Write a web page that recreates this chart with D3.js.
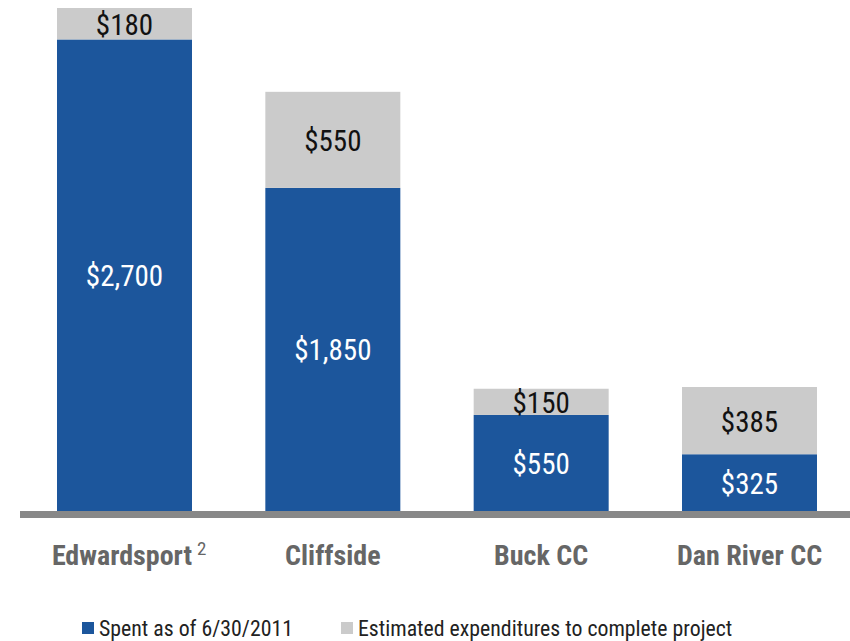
<!DOCTYPE html>
<html>
<head>
<meta charset="utf-8">
<script src="https://cdn.jsdelivr.net/npm/d3@7"></script>
<style>
  body { margin: 0; background: #fff; }
  svg { display: block; }
  text { font-family: "Liberation Sans Narrow", "Arial Narrow", "Roboto Condensed", "DejaVu Sans Condensed", sans-serif; }
</style>
</head>
<body>
<svg id="chart" width="850" height="641"></svg>
<script>
const categories = ["Edwardsport", "Cliffside", "Buck CC", "Dan River CC"];
const footnotes = ["2", "", "", ""];
const spent = [2700, 1850, 550, 325];
const estimated = [180, 550, 150, 385];
const seriesNames = ["Spent as of 6/30/2011", "Estimated expenditures to complete project"];
const colors = ["#1C569C", "#CBCBCB"];

const svg = d3.select("#chart");
const baseY = 511;

const x = d3.scaleBand().domain(categories).range([57, 817]).paddingInner(0.352).paddingOuter(0);
const y = d3.scaleLinear().domain([0, 2880]).range([baseY, 8]);

const rows = categories.map((c, i) => ({ cat: c, spent: spent[i], estimated: estimated[i] }));
const stack = d3.stack().keys(["spent", "estimated"])(rows);

stack.forEach((layer, li) => {
  const g = svg.append("g");
  g.selectAll("rect").data(layer).join("rect")
    .attr("x", d => x(d.data.cat))
    .attr("width", x.bandwidth())
    .attr("y", d => y(d[1]))
    .attr("height", d => y(d[0]) - y(d[1]))
    .attr("fill", colors[li]);
  g.selectAll("text").data(layer).join("text")
    .attr("x", d => x(d.data.cat) + x.bandwidth() / 2)
    .attr("y", d => (y(d[0]) + y(d[1])) / 2)
    .attr("dy", "0.38em")
    .attr("text-anchor", "middle")
    .attr("font-size", 29)
    .attr("fill", li === 0 ? "#ffffff" : "#111111")
    .text(d => "$" + d3.format(",")(d[1] - d[0]));
});

// baseline axis
const axis = d3.axisBottom(x).tickSize(0).tickPadding(0);
const axG = svg.append("g").attr("transform", `translate(0,${baseY})`).call(axis);
axG.select(".domain").remove();
axG.append("rect").attr("x", 20).attr("y", 0).attr("width", 830).attr("height", 7).attr("fill", "#888888");
axG.selectAll(".tick text")
  .attr("y", 54)
  .attr("dy", 0)
  .attr("font-size", 28)
  .attr("font-weight", "bold")
  .attr("fill", "#666666")
  .attr("font-family", null)
  .each(function(d, i) {
    if (footnotes[i]) {
      const t = d3.select(this);
      const mainLen = this.getComputedTextLength();
      t.append("tspan").attr("dx", 5).attr("dy", -10).attr("font-size", 19).attr("font-weight", "normal").text(footnotes[i]);
      const fullLen = this.getComputedTextLength();
      t.attr("x", (fullLen - mainLen) / 2);
    }
  });

// legend
const legend = svg.append("g").attr("transform", "translate(82,622)");
const legX = [0, 259];
seriesNames.forEach((name, i) => {
  const g = legend.append("g").attr("transform", `translate(${legX[i]},0)`);
  g.append("rect").attr("width", 12).attr("height", 12).attr("fill", colors[i]);
  g.append("text").attr("x", 17).attr("y", 6).attr("dy", "0.38em").attr("font-size", 21.8).attr("fill", "#222").text(name);
});
</script>
</body>
</html>
